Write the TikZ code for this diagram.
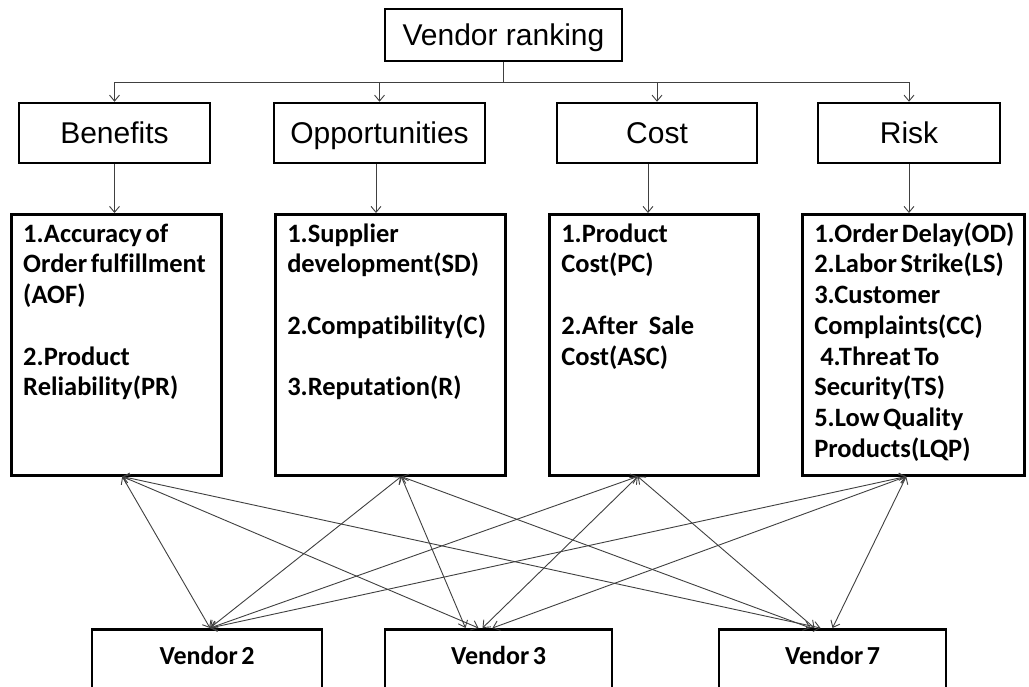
\documentclass[tikz,border=0pt]{standalone}
\usepackage{fontspec}
\setmainfont{Liberation Sans}
\newfontfamily\hdfont{Liberation Sans}
\newfontfamily\calfont[WordSpace=0.6,Ligatures=CommonOff]{Carlito}
\usetikzlibrary{arrows.meta}
\newcommand\lbody[2]{\parbox[t][261pt][t]{#1}{\calfont\bfseries\fontsize{26.5}{30.7}\selectfont\leftskip=12pt\rightskip=0pt plus 1fil\parindent=0pt\hbadness=10000\vspace*{6.5pt}\strut #2}}
\begin{document}
\begin{tikzpicture}[x=1pt,y=-1pt,
  hbox/.style={draw, line width=2.5pt, font=\hdfont\fontsize{30}{32}\selectfont, text height=21.5pt, text depth=0pt, inner sep=0pt},
  lbox/.style={draw, line width=2.5pt, anchor=north west, inner sep=0pt, align=left},
  vbox/.style={draw, line width=2.5pt, anchor=north, inner xsep=0pt, inner ysep=0pt, text height=35pt, text depth=27pt, font=\calfont\bfseries\fontsize{26}{30}\selectfont},
  conn/.style={draw=black!75, line width=0.9pt},
  arr/.style={conn, -{Straight Barb[length=6pt,width=10pt]}},
  darr/.style={conn, {Straight Barb[length=6pt,width=10pt]}-{Straight Barb[length=6pt,width=10pt]}}]
\useasboundingbox (0,0) rectangle (1029,686);
\clip (0,0) rectangle (1029,686);
\fill[white] (0,0) rectangle (1029,686);
% top
\node[hbox, minimum width=237pt, minimum height=52pt] (top) at (503.5,35) {Vendor ranking};
% headers
\node[hbox, minimum width=191pt, minimum height=60pt] (ben) at (114.5,133) {Benefits};
\node[hbox, minimum width=211pt, minimum height=60pt] (opp) at (379.5,133) {Opportunities};
\node[hbox, minimum width=200pt, minimum height=60pt] (cost) at (657,133) {Cost};
\node[hbox, minimum width=182pt, minimum height=60pt] (risk) at (909,133) {Risk};
% lower boxes
\node[lbox] (bl) at (10,213) {\lbody{210pt}{1.Accuracy of\\Order fulfillment\\(AOF)\\[30.7pt]2.Product\\Reliability(PR)}};
\node[lbox] (ol) at (274,213) {\lbody{230pt}{1.Supplier\\development(SD)\\[30.7pt]2.Compatibility(C)\\[30.7pt]3.Reputation(R)}};
\node[lbox] (cl) at (548,213) {\lbody{209pt}{1.Product\\Cost(PC)\\[30.7pt]2.After\ \ \ Sale\\Cost(ASC)}};
\node[lbox] (rl) at (801,213) {\lbody{222pt}{1.Order Delay(OD)\\2.Labor Strike(LS)\\3.Customer\\Complaints(CC)\\\hspace*{6pt}4.Threat To\\Security(TS)\\5.Low Quality\\Products(LQP)}};
% vendors
\node[vbox, minimum width=230pt] (v2) at (207,628) {Vendor 2};
\node[vbox, minimum width=227pt] (v3) at (498.5,628) {Vendor 3};
\node[vbox, minimum width=227pt] (v7) at (832.5,628) {Vendor 7};
% tree
\coordinate (j) at (503.5,82);
\draw[conn] (top.south) -- (j);
\draw[arr] (j) -| (ben.north);
\draw[arr] (j) -| (opp.north);
\draw[arr] (j) -| (cost.north);
\draw[arr] (j) -| (risk.north);
\draw[arr] (ben.south) -- (ben.south |- bl.north);
\draw[arr] ([xshift=-3.5pt]opp.south) -- ([xshift=-3.5pt]opp.south |- ol.north);
\draw[arr] ([xshift=-9pt]cost.south) -- ([xshift=-9pt]cost.south |- cl.north);
\draw[arr] (risk.south) -- (risk.south |- rl.north);
% cross links
\draw[darr] ([xshift=6pt]bl.south) -- ([xshift=3pt]v2.north);
\draw[darr] ([xshift=6pt]bl.south) -- ([xshift=-20pt]v3.north);
\draw[darr] ([xshift=6pt]bl.south) -- ([xshift=-12pt]v7.north);
\draw[darr] ([xshift=11pt]ol.south) -- ([xshift=3pt]v2.north);
\draw[darr] ([xshift=11pt]ol.south) -- ([xshift=-33pt]v3.north);
\draw[darr] ([xshift=11pt]ol.south) -- ([xshift=-22pt]v7.north);
\draw[darr] ([xshift=-16pt]cl.south) -- ([xshift=3pt]v2.north);
\draw[darr] ([xshift=-16pt]cl.south) -- ([xshift=-16pt]v3.north);
\draw[darr] ([xshift=-16pt]cl.south) -- ([xshift=-18pt]v7.north);
\draw[darr] ([xshift=-7pt]rl.south) -- ([xshift=3pt]v2.north);
\draw[darr] ([xshift=-7pt]rl.south) -- ([xshift=-6pt]v3.north);
\draw[darr] ([xshift=-7pt]rl.south) -- (v7.north);
\end{tikzpicture}
\end{document}
